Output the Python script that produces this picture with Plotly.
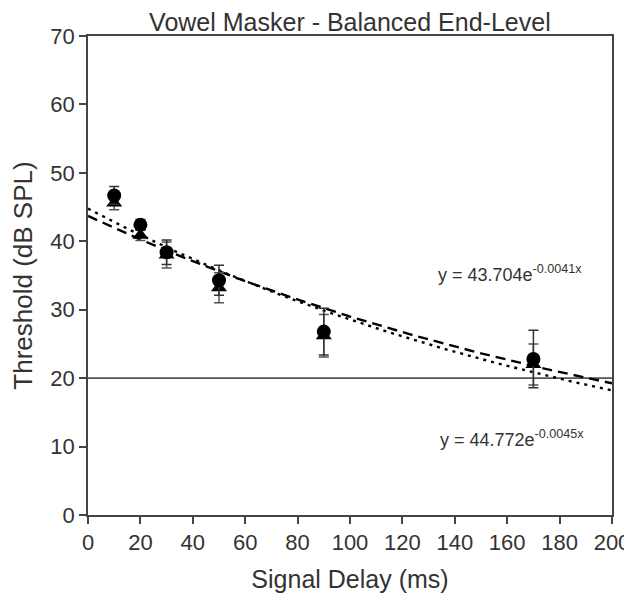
import numpy as np
import plotly.graph_objects as go

# ---- data ----
delays = [10, 20, 30, 50, 90, 170]
circle_vals = [46.7, 42.4, 38.4, 34.3, 26.8, 22.8]
circle_err = [1.3, 0.8, 1.8, 2.2, 3.4, 4.2]
tri_vals = [45.6, 40.9, 38.0, 33.2, 26.2, 22.0]
tri_err = [1.0, 0.8, 1.9, 2.2, 3.1, 3.0]
fit1 = (43.704, -0.0041)   # long dashes
fit2 = (44.772, -0.0045)   # short dashes / dots
ref_level = 20
x_ticks = list(range(0, 201, 20))
y_ticks = list(range(0, 71, 10))

FONT = "Liberation Sans, Arial, sans-serif"
AX = "#444444"
TXT = "#333333"

fig = go.Figure()

fig.add_trace(go.Scatter(x=[0, 200], y=[ref_level, ref_level], mode="lines",
                         line=dict(color="#555555", width=1.8),
                         showlegend=False, hoverinfo="skip"))

xs = np.linspace(0, 200, 201)
fig.add_trace(go.Scatter(x=xs, y=fit1[0] * np.exp(fit1[1] * xs), mode="lines",
                         line=dict(color="black", width=2.4, dash="10px,6px"),
                         showlegend=False, hoverinfo="skip"))
fig.add_trace(go.Scatter(x=xs, y=fit2[0] * np.exp(fit2[1] * xs), mode="lines",
                         line=dict(color="black", width=2.4, dash="3px,5px"),
                         showlegend=False, hoverinfo="skip"))

fig.add_trace(go.Scatter(x=delays, y=tri_vals, mode="markers",
                         marker=dict(symbol="triangle-up", size=14, color="black"),
                         error_y=dict(type="data", array=tri_err, color="#555555",
                                      thickness=1.5, width=5),
                         showlegend=False))
fig.add_trace(go.Scatter(x=delays, y=circle_vals, mode="markers",
                         marker=dict(symbol="circle", size=14, color="black"),
                         error_y=dict(type="data", array=circle_err, color="#333333",
                                      thickness=1.5, width=5),
                         showlegend=False))

fig.add_annotation(x=133, y=35.3, xref="x", yref="y", xanchor="left", yanchor="middle",
                   text="y = %.3fe<sup>%.4fx</sup>" % fit1, showarrow=False,
                   font=dict(family=FONT, size=18, color=TXT))
fig.add_annotation(x=133.5, y=11.2, xref="x", yref="y", xanchor="left", yanchor="middle",
                   text="y = %.3fe<sup>%.4fx</sup>" % fit2, showarrow=False,
                   font=dict(family=FONT, size=18, color=TXT))

fig.update_layout(
    width=632, height=605,
    margin=dict(l=80, r=28, t=28, b=98, autoexpand=False),
    paper_bgcolor="white", plot_bgcolor="white",
    title=dict(text="Vowel Masker - Balanced End-Level", x=0.541, xanchor="center",
               y=0.976, yanchor="middle",
               font=dict(family=FONT, size=25, color=TXT)),
    xaxis=dict(range=[0, 200], tickvals=x_ticks, ticks="outside", ticklen=7,
               tickcolor=AX, tickwidth=1.5, showline=True, linecolor=AX, linewidth=1.8,
               mirror=True, showgrid=False, zeroline=False, automargin=False,
               tickfont=dict(family=FONT, size=22, color=TXT),
               title=dict(text="Signal Delay (ms)", standoff=16,
                          font=dict(family=FONT, size=25, color=TXT))),
    yaxis=dict(range=[0, 70], tickvals=y_ticks, ticks="outside", ticklen=7,
               tickcolor=AX, tickwidth=1.5, showline=True, linecolor=AX, linewidth=1.8,
               mirror=True, showgrid=False, zeroline=False, automargin=False,
               tickfont=dict(family=FONT, size=22, color=TXT),
               title=dict(text="Threshold (dB SPL)", standoff=11,
                          font=dict(family=FONT, size=26, color=TXT))),
)

fig.write_html("out.html")
